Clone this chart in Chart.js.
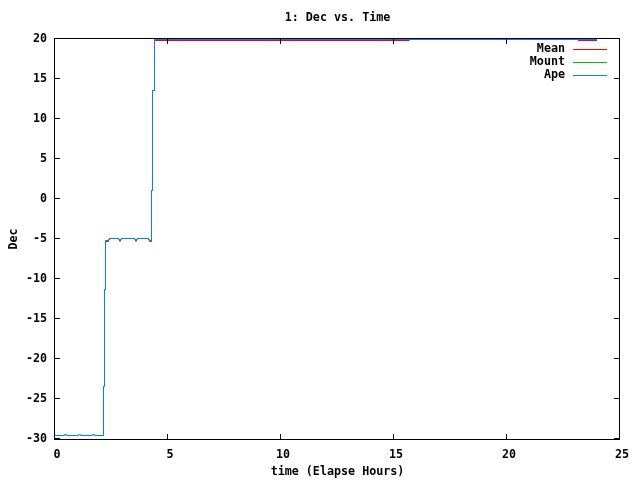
<!DOCTYPE html>
<html>
<head>
<meta charset="utf-8">
<script src="https://cdn.jsdelivr.net/npm/chart.js@4"></script>
<style>
  html, body { margin: 0; padding: 0; background: #fff; }
  #wrap { width: 640px; height: 480px; }
</style>
</head>
<body>
<div id="wrap"><canvas id="myChart" width="640" height="480"></canvas></div>
<script>
// chart data
const chartTitle = '1: Dec vs. Time';
const xTitle = 'time (Elapse Hours)';
const yTitle = 'Dec';
const seriesNames = ['Mean', 'Mount', 'Ape'];
const seriesColors = ['#ff0000', '#00c000', '#0080ff'];

const xTicks = [0, 5, 10, 15, 20, 25];
const yTicks = [-30, -25, -20, -15, -10, -5, 0, 5, 10, 15, 20];

const timeApe = [0, 0.376, 0.465, 0.553, 0.996, 1.084, 1.173, 1.615, 1.704, 1.792, 2.146, 2.146, 2.190, 2.190,
  2.235, 2.235, 2.367, 2.412, 2.810, 2.876, 2.942, 3.518, 3.584, 3.650, 4.137, 4.181, 4.270, 4.270,
  4.314, 4.314, 4.403, 4.403, 23.982];
const decApe = [-29.5625, -29.5625, -29.4375, -29.5625, -29.5625, -29.4375, -29.5625, -29.5625, -29.4375, -29.5625,
  -29.5625, -23.4375, -23.4375, -11.3125, -11.3125, -5.1875, -5.1875, -4.9375, -4.9375, -5.1875, -4.9375,
  -4.9375, -5.1875, -4.9375, -4.9375, -5.1875, -5.1875, 1.0625, 1.0625, 13.5625, 13.5625, 19.9375, 19.9375];

// mount follows the ape track (hidden underneath it)
const timeMount = timeApe;
const decMount = decApe;

const timeMean = [2.235, 2.367, 2.412, 2.810, 2.876, 2.942, 3.518, 3.584, 3.650, 4.137, 4.181, 4.270, 4.270,
  4.314, 4.314, 4.403, 4.403, 15.686, 15.70, 23.142, 23.982];
const decMean = [-5.3125, -5.3125, -4.9375, -4.9375, -5.3125, -4.9375, -4.9375, -5.3125, -4.9375, -4.9375,
  -5.3125, -5.3125, 1.0625, 1.0625, 13.5625, 13.5625, 19.8125, 19.8125, null, 19.8125, 19.8125];

function pts(xs, ys) {
  return xs.map((x, i) => ({ x: x, y: ys[i] }));
}

const FONT = 'bold 11.7px "DejaVu Sans Mono", monospace';

// gnuplot-ish frame, inward ticks, titles and legend
const gnuplotDecor = {
  id: 'gnuplotDecor',
  afterDraw(chart) {
    const ctx = chart.ctx;
    const a = chart.chartArea;
    const xs = chart.scales.x;
    const ys = chart.scales.y;
    const L = Math.round(a.left) - 1, R = Math.round(a.right) - 1;
    const T = Math.round(a.top) - 1, B = Math.round(a.bottom);
    ctx.save();
    ctx.fillStyle = '#000';
    ctx.fillRect(L, T, R - L + 1, 1);
    ctx.fillRect(L, B, R - L + 1, 1);
    ctx.fillRect(L, T, 1, B - T + 1);
    ctx.fillRect(R, T, 1, B - T + 1);
    xTicks.forEach(v => {
      const px = Math.round(xs.getPixelForValue(v)) - 1;
      ctx.fillRect(px, B - 5, 1, 5);
      ctx.fillRect(px, T + 1, 1, 5);
    });
    yTicks.forEach(v => {
      const py = Math.round(ys.getPixelForValue(v)) - 1;
      ctx.fillRect(L + 1, py, 5, 1);
      ctx.fillRect(R - 5, py, 5, 1);
    });

    ctx.font = FONT;
    ctx.textBaseline = 'middle';
    ctx.textAlign = 'center';
    const cx = (a.left + a.right) / 2;
    ctx.fillText(chartTitle, cx, 18);
    ctx.fillText(xTitle, cx, 472);
    ctx.save();
    ctx.translate(14, (a.top + a.bottom) / 2);
    ctx.rotate(-Math.PI / 2);
    ctx.fillText(yTitle, 0, 0);
    ctx.restore();

    // legend
    const legY = [49, 62, 75];
    ctx.textAlign = 'right';
    seriesNames.forEach((name, i) => {
      ctx.fillStyle = '#000';
      ctx.fillText(name, 565, legY[i]);
      ctx.fillStyle = seriesColors[i];
      ctx.fillRect(573, legY[i], 34, 1);
    });
    ctx.restore();
  }
};

const data = {
  datasets: [
    { label: seriesNames[0], data: pts(timeMean, decMean), borderColor: seriesColors[0], order: 2 },
    { label: seriesNames[1], data: pts(timeMount, decMount), borderColor: seriesColors[1], order: 1 },
    { label: seriesNames[2], data: pts(timeApe, decApe), borderColor: seriesColors[2], order: 0 }
  ]
};
data.datasets.forEach(d => {
  d.borderWidth = 1;
  d.pointRadius = 0;
  d.tension = 0;
  d.fill = false;
  d.spanGaps = false;
});

const tickFont = { family: '"DejaVu Sans Mono", monospace', size: 11.7, weight: 'bold' };

const config = {
  type: 'line',
  data,
  options: {
    responsive: false,
    animation: false,
    layout: { padding: { left: 0, right: 20, top: 39, bottom: 0 } },
    plugins: {
      legend: { display: false },
      title: { display: false },
      tooltip: { enabled: false }
    },
    scales: {
      x: {
        type: 'linear',
        min: 0,
        max: 25,
        afterFit: s => { s.height = 41; },
        afterBuildTicks: s => { s.ticks = xTicks.map(v => ({ value: v })); },
        grid: { display: false, drawTicks: false },
        border: { display: false },
        ticks: { color: '#000', font: tickFont, padding: 9, labelOffset: 2, maxRotation: 0 }
      },
      y: {
        type: 'linear',
        min: -30,
        max: 20,
        afterFit: s => { s.width = 55; },
        afterBuildTicks: s => { s.ticks = yTicks.map(v => ({ value: v })); },
        grid: { display: false, drawTicks: false },
        border: { display: false },
        ticks: { color: '#000', font: tickFont, padding: 8 }
      }
    }
  },
  plugins: [gnuplotDecor]
};

const myChart = new Chart(document.getElementById('myChart'), config);
</script>
</body>
</html>
